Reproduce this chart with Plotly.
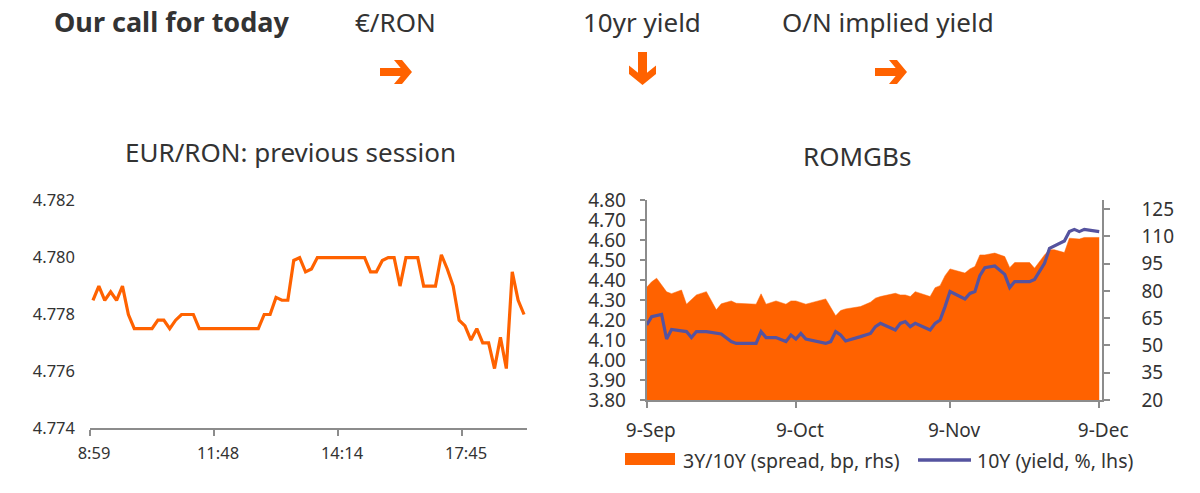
import plotly.graph_objects as go

W, H = 1200, 493

# ---------------- data ----------------
# EUR/RON previous session (intraday ticks, in order)
eurron_tick_labels = ["8:59", "11:48", "14:14", "17:45"]
eurron_tick_index = [0, 21, 42, 63]
eurron = [
    4.7785, 4.7790, 4.7785, 4.7788, 4.7785, 4.7790, 4.7780, 4.7775, 4.7775, 4.7775,
    4.7775, 4.7778, 4.7778, 4.7775, 4.7778, 4.7780, 4.7780, 4.7780, 4.7775, 4.7775,
    4.7775, 4.7775, 4.7775, 4.7775, 4.7775, 4.7775, 4.7775, 4.7775, 4.7775, 4.7780,
    4.7780, 4.7786, 4.7785, 4.7785, 4.7799, 4.7800, 4.7795, 4.7796, 4.7800, 4.7800,
    4.7800, 4.7800, 4.7800, 4.7800, 4.7800, 4.7800, 4.7800, 4.7795, 4.7795, 4.7799,
    4.7800, 4.7800, 4.7790, 4.7800, 4.7800, 4.7800, 4.7790, 4.7790, 4.7790, 4.7801,
    4.7796, 4.7790, 4.7778, 4.7776, 4.7771, 4.7775, 4.7770, 4.7770, 4.7761, 4.7772,
    4.7761, 4.7795, 4.7785, 4.7780,
]

# ROMGBs: 3Y/10Y spread (bp, rhs)
spread_dates = [
    "2019-09-09", "2019-09-10", "2019-09-11", "2019-09-13", "2019-09-14", "2019-09-16",
    "2019-09-17", "2019-09-19", "2019-09-21", "2019-09-23", "2019-09-24", "2019-09-26",
    "2019-09-27", "2019-10-01", "2019-10-02", "2019-10-03", "2019-10-05", "2019-10-07",
    "2019-10-08", "2019-10-09", "2019-10-11", "2019-10-15", "2019-10-17", "2019-10-18",
    "2019-10-19", "2019-10-22", "2019-10-24", "2019-10-25", "2019-10-26", "2019-10-29",
    "2019-10-30", "2019-10-31", "2019-11-01", "2019-11-02", "2019-11-05", "2019-11-06",
    "2019-11-07", "2019-11-08", "2019-11-09", "2019-11-12", "2019-11-13", "2019-11-14",
    "2019-11-15", "2019-11-16", "2019-11-18", "2019-11-20", "2019-11-21", "2019-11-22",
    "2019-11-25", "2019-11-26", "2019-11-28", "2019-11-29", "2019-11-30", "2019-12-02",
    "2019-12-03", "2019-12-05", "2019-12-06", "2019-12-09",
]
spread_bp = [
    82.0, 85.0, 87.0, 79.5, 78.5, 80.5,
    72.7, 77.8, 79.6, 69.6, 72.9, 74.5,
    73.2, 72.7, 78.4, 72.7, 74.5, 72.7,
    74.5, 74.5, 72.7, 75.6, 66.3, 69.2,
    70.1, 71.4, 73.8, 76.0, 76.9, 78.7,
    77.8, 77.8, 76.9, 79.6, 76.9, 81.8,
    82.9, 88.4, 92.1, 89.8, 92.1, 93.4,
    99.8, 99.8, 100.8, 98.9, 92.8, 95.6,
    95.6, 92.5, 99.8, 102.6, 102.6, 101.1,
    109.0, 108.5, 109.4, 109.4,
]

# ROMGBs: 10Y yield (%, lhs)
yield_dates = [
    "2019-09-09", "2019-09-10", "2019-09-12", "2019-09-13", "2019-09-14", "2019-09-17",
    "2019-09-18", "2019-09-19", "2019-09-21", "2019-09-24", "2019-09-26", "2019-09-27",
    "2019-10-01", "2019-10-02", "2019-10-03", "2019-10-05", "2019-10-07", "2019-10-08",
    "2019-10-09", "2019-10-10", "2019-10-11", "2019-10-15", "2019-10-16", "2019-10-17",
    "2019-10-18", "2019-10-19", "2019-10-22", "2019-10-24", "2019-10-25", "2019-10-26",
    "2019-10-29", "2019-10-30", "2019-10-31", "2019-11-01", "2019-11-02", "2019-11-05",
    "2019-11-06", "2019-11-07", "2019-11-08", "2019-11-09", "2019-11-12", "2019-11-13",
    "2019-11-14", "2019-11-15", "2019-11-16", "2019-11-18", "2019-11-20", "2019-11-21",
    "2019-11-22", "2019-11-25", "2019-11-26", "2019-11-28", "2019-11-29", "2019-11-30",
    "2019-12-02", "2019-12-03", "2019-12-04", "2019-12-05", "2019-12-06", "2019-12-09",
]
yield_10y = [
    4.175, 4.217, 4.228, 4.105, 4.153, 4.142,
    4.112, 4.142, 4.142, 4.130, 4.092, 4.083,
    4.083, 4.142, 4.112, 4.112, 4.092, 4.125,
    4.105, 4.133, 4.105, 4.083, 4.092, 4.142,
    4.125, 4.095, 4.117, 4.133, 4.167, 4.183,
    4.150, 4.183, 4.192, 4.167, 4.183, 4.150,
    4.183, 4.200, 4.267, 4.342, 4.305, 4.333,
    4.342, 4.422, 4.462, 4.470, 4.428, 4.362,
    4.392, 4.392, 4.403, 4.483, 4.558, 4.570,
    4.595, 4.642, 4.653, 4.642, 4.653, 4.642,
]

romgb_tick_dates = ["2019-09-09", "2019-10-09", "2019-11-09", "2019-12-09"]
romgb_tick_labels = ["9-Sep", "9-Oct", "9-Nov", "9-Dec"]

# ---------------- style ----------------
ORANGE = "#FF6200"
BLUE = "#55539F"
TXT = "#333333"
AX = "#8C8C8C"
FONT = "Noto Sans"


def px(x):
    return x / W


def py(y):
    return 1 - y / H


def arrow_path(x0, y0, dx, dy, L, Hh, t, a, h):
    """Heavy arrow (shaft + chevron head) in pixel coords, converted to paper."""
    ui = L - h - a + h * (Hh - t) / Hh
    local = [(0, -t), (ui, -t), (L - h - a, -Hh), (L - h, -Hh), (L, 0),
             (L - h, Hh), (L - h - a, Hh), (ui, t), (0, t)]
    pts = []
    for u, v in local:
        X = x0 + u * dx - v * dy
        Y = y0 + u * dy + v * dx
        pts.append(f"{px(X):.5f},{py(Y):.5f}")
    return "M" + " L".join(pts) + " Z"


fig = go.Figure()

# Left chart: EUR/RON line
fig.add_trace(go.Scatter(
    x=list(range(len(eurron))), y=eurron, mode="lines",
    line=dict(color=ORANGE, width=3.2), xaxis="x", yaxis="y",
    showlegend=False, hoverinfo="skip",
))

# Right chart: spread area (rhs) then yield line (lhs, overlay on top)
fig.add_trace(go.Scatter(
    x=spread_dates, y=spread_bp, mode="lines", fill="tozeroy",
    fillcolor=ORANGE, line=dict(color=ORANGE, width=0.5),
    xaxis="x2", yaxis="y2", showlegend=False, hoverinfo="skip",
))
fig.add_trace(go.Scatter(
    x=yield_dates, y=yield_10y, mode="lines",
    line=dict(color=BLUE, width=3.2),
    xaxis="x2", yaxis="y3", showlegend=False, hoverinfo="skip",
))

tickfont_l = dict(family=FONT, size=16.5, color=TXT)
tickfont_r = dict(family=FONT, size=19, color=TXT)

shapes = [
    # legend swatches
    dict(type="rect", xref="paper", yref="paper", x0=px(625), x1=px(675),
         y0=py(465), y1=py(453), fillcolor=ORANGE, line=dict(width=0)),
    dict(type="line", xref="paper", yref="paper", x0=px(918), x1=px(971),
         y0=py(460), y1=py(460), line=dict(color=BLUE, width=3.5)),
    # header arrows
    dict(type="path", xref="paper", yref="paper", fillcolor=ORANGE, line=dict(width=0),
         path=arrow_path(380, 72, 1, 0, 32, 12, 4, 8, 10)),
    dict(type="path", xref="paper", yref="paper", fillcolor=ORANGE, line=dict(width=0),
         path=arrow_path(642.5, 52, 0, 1, 33, 13.5, 4.5, 8.5, 11)),
    dict(type="path", xref="paper", yref="paper", fillcolor=ORANGE, line=dict(width=0),
         path=arrow_path(875, 72, 1, 0, 32, 12, 4, 8, 10)),
]

annotations = [
    dict(text="<b>Our call for today</b>", x=px(52), y=py(22), xanchor="left", yanchor="middle",
         font=dict(family=FONT, size=27, color=TXT)),
    dict(text="€/RON", x=px(395), y=py(22), xanchor="center", yanchor="middle",
         font=dict(family=FONT, size=26, color=TXT)),
    dict(text="10yr yield", x=px(642), y=py(22), xanchor="center", yanchor="middle",
         font=dict(family=FONT, size=26, color=TXT)),
    dict(text="O/N implied yield", x=px(888), y=py(22), xanchor="center", yanchor="middle",
         font=dict(family=FONT, size=26, color=TXT)),
    dict(text="EUR/RON: previous session", x=px(290), y=py(152), xanchor="center", yanchor="middle",
         font=dict(family=FONT, size=26, color=TXT)),
    dict(text="ROMGBs", x=px(857), y=py(156), xanchor="center", yanchor="middle",
         font=dict(family=FONT, size=26, color=TXT)),
    dict(text="3Y/10Y (spread, bp, rhs)", x=px(681), y=py(460), xanchor="left", yanchor="middle",
         font=dict(family=FONT, size=19.5, color=TXT)),
    dict(text="10Y (yield, %, lhs)", x=px(975), y=py(460), xanchor="left", yanchor="middle",
         font=dict(family=FONT, size=19.5, color=TXT)),
]
for an in annotations:
    an.update(xref="paper", yref="paper", showarrow=False)

fig.update_layout(
    template="none",
    width=W, height=H, autosize=False,
    margin=dict(l=0, r=0, t=0, b=0, pad=0),
    paper_bgcolor="white", plot_bgcolor="rgba(0,0,0,0)",
    font=dict(family=FONT, color=TXT),
    showlegend=False,
    shapes=shapes,
    annotations=annotations,
    xaxis=dict(
        domain=[px(90), px(527)], anchor="y", range=[-0.5, len(eurron) - 0.5],
        tickmode="array", tickvals=[i - 0.5 for i in eurron_tick_index],
        ticktext=eurron_tick_labels, ticklabelshift=4,
        ticks="outside", ticklen=6, tickwidth=1.5, tickcolor=AX,
        showline=True, linecolor=AX, linewidth=1.5,
        showgrid=False, zeroline=False, tickfont=tickfont_l,
        ticklabelstandoff=3, automargin=False, fixedrange=True,
    ),
    yaxis=dict(
        domain=[py(428.3), py(200.7)], anchor="x", range=[4.774, 4.782],
        tick0=4.774, dtick=0.002, tickformat=".3f",
        ticks="", showline=False, showgrid=False, zeroline=False,
        tickfont=tickfont_l, ticklabelstandoff=14, automargin=False, fixedrange=True,
    ),
    xaxis2=dict(
        type="date", domain=[px(646.7), px(1101.7)], anchor="y2",
        range=["2019-09-09", "2019-12-09 12:00"],
        tickmode="array", tickvals=romgb_tick_dates, ticktext=romgb_tick_labels,
        ticklabelshift=4,
        ticks="outside", ticklen=6, tickwidth=2, tickcolor=AX,
        showline=True, linecolor=AX, linewidth=2,
        showgrid=False, zeroline=False, tickfont=tickfont_r,
        ticklabelstandoff=6, automargin=False, fixedrange=True,
    ),
    yaxis2=dict(
        domain=[py(400), py(200)], anchor="x2", side="right", range=[20, 130],
        tick0=20, dtick=15,
        ticks="outside", ticklen=6, tickwidth=2, tickcolor=AX,
        showline=True, linecolor=AX, linewidth=2,
        showgrid=False, zeroline=False, tickfont=tickfont_r,
        ticklabelstandoff=28, automargin=False, fixedrange=True,
    ),
    yaxis3=dict(
        overlaying="y2", anchor="x2", side="left", range=[3.8, 4.8],
        tick0=3.8, dtick=0.1, tickformat=".2f",
        ticks="outside", ticklen=5, tickwidth=2, tickcolor=AX,
        showline=True, linecolor=AX, linewidth=2,
        showgrid=False, zeroline=False, tickfont=tickfont_r,
        ticklabelstandoff=10, automargin=False, fixedrange=True,
    ),
)

fig.write_html(
    "out.html",
    config={"displayModeBar": False},
    post_script="document.body.style.margin='0';document.body.style.overflow='hidden';",
)
